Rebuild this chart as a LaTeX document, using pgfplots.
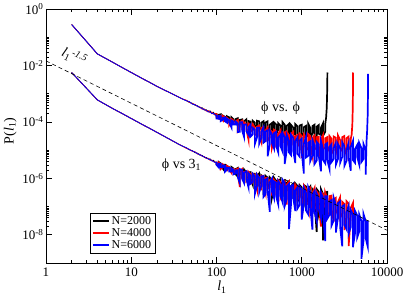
\documentclass[border=0pt]{standalone}
\usepackage{fontspec}
\setmainfont{Liberation Serif}
\usepackage{pgfplots}
\pgfplotsset{compat=1.18}
\usepackage{pgfplotstable}

% phi vs phi, N=2000 (log10 P)
\pgfplotstableread[row sep=\\]{
l lp\\
2 -0.55\\ 4 -1.59\\ 6 -1.88\\ 8 -2.09\\ 10 -2.25\\ 12 -2.38\\ 14 -2.49\\ 16 -2.58\\ 20 -2.74\\ 24 -2.86\\ 30 -3.00\\ 36 -3.12\\ 40 -3.19\\
44 -3.24\\ 48 -3.31\\ 52 -3.34\\ 56 -3.41\\ 60 -3.43\\ 64 -3.50\\ 68 -3.50\\ 72 -3.58\\ 76 -3.57\\ 80 -3.64\\ 84 -3.61\\ 88 -3.70\\ 92 -3.66\\ 96 -3.74\\
100 -3.70\\ 100 -3.79\\ 106 -3.84\\ 106 -3.75\\ 112 -3.73\\ 112 -3.82\\ 119 -3.90\\ 119 -3.78\\ 126 -3.82\\ 126 -3.89\\
133 -3.89\\ 133 -3.80\\ 141 -3.84\\ 141 -3.99\\ 150 -3.95\\ 150 -3.84\\ 158 -3.91\\ 158 -3.99\\ 168 -3.97\\ 168 -3.90\\
178 -3.87\\ 178 -4.11\\ 188 -4.09\\ 188 -3.93\\ 200 -3.91\\ 200 -4.07\\ 211 -4.27\\ 211 -3.98\\ 224 -3.91\\ 224 -4.08\\
237 -4.16\\ 237 -3.97\\ 251 -3.99\\ 251 -4.15\\ 266 -4.23\\ 266 -3.96\\ 282 -4.03\\ 282 -4.13\\ 299 -4.19\\ 299 -3.96\\
316 -3.98\\ 316 -4.28\\ 335 -4.20\\ 335 -4.03\\ 355 -3.98\\ 355 -4.54\\ 376 -4.26\\ 376 -4.02\\ 398 -3.98\\ 398 -4.20\\
422 -4.34\\ 422 -4.10\\ 447 -4.04\\ 447 -4.32\\ 473 -4.28\\ 473 -4.02\\ 501 -4.09\\ 501 -4.44\\ 531 -4.27\\ 531 -4.05\\
562 -4.13\\ 562 -4.37\\ 596 -4.42\\ 596 -4.01\\ 631 -4.10\\ 631 -4.33\\ 668 -4.62\\ 668 -4.14\\ 708 -4.07\\ 708 -4.39\\
750 -4.50\\ 750 -4.11\\ 794 -4.20\\ 794 -4.35\\ 841 -4.46\\ 841 -4.08\\ 891 -4.16\\ 891 -4.40\\ 944 -4.75\\ 944 -4.13\\
1000 -4.10\\ 1000 -4.48\\ 1059 -4.41\\ 1059 -4.19\\ 1122 -4.14\\ 1122 -4.54\\ 1189 -4.46\\ 1189 -4.06\\ 1259 -4.21\\ 1259 -4.61\\
1334 -4.39\\ 1334 -4.15\\ 1413 -4.10\\ 1413 -4.50\\ 1496 -4.76\\ 1496 -4.17\\ 1585 -4.11\\ 1585 -4.42\\ 1679 -4.46\\ 1679 -4.21\\
1778 -4.05\\ 1778 -4.49\\ 1884 -4.35\\ 1884 -4.08\\ 1930 -3.85\\ 1960 -3.55\\ 1980 -3.15\\ 1992 -2.70\\ 2000 -2.25\\
}\ubk

% phi vs phi, N=4000
\pgfplotstableread[row sep=\\]{
l lp\\
2 -0.55\\ 4 -1.59\\ 6 -1.88\\ 8 -2.09\\ 10 -2.25\\ 12 -2.38\\ 14 -2.49\\ 16 -2.58\\ 20 -2.74\\ 24 -2.86\\ 30 -3.00\\ 36 -3.12\\ 40 -3.19\\
44 -3.23\\ 48 -3.30\\ 52 -3.36\\ 56 -3.38\\ 60 -3.46\\ 64 -3.47\\ 68 -3.55\\ 72 -3.54\\ 76 -3.62\\ 80 -3.60\\ 84 -3.67\\ 88 -3.65\\ 92 -3.73\\ 96 -3.71\\
100 -3.70\\ 100 -3.83\\ 106 -3.88\\ 106 -3.78\\ 112 -3.78\\ 112 -3.86\\ 119 -3.95\\ 119 -3.79\\ 126 -3.85\\ 126 -3.95\\
133 -3.96\\ 133 -3.86\\ 141 -3.92\\ 141 -4.12\\ 150 -4.01\\ 150 -3.90\\ 158 -3.95\\ 158 -4.07\\ 168 -4.08\\ 168 -3.98\\
178 -3.93\\ 178 -4.30\\ 188 -4.16\\ 188 -4.02\\ 200 -3.96\\ 200 -4.26\\ 211 -4.32\\ 211 -4.02\\ 224 -4.09\\ 224 -4.26\\
237 -4.62\\ 237 -4.06\\ 251 -4.12\\ 251 -4.34\\ 266 -4.29\\ 266 -4.09\\ 282 -4.20\\ 282 -4.46\\ 299 -4.45\\ 299 -4.17\\
316 -4.13\\ 316 -4.47\\ 335 -4.71\\ 335 -4.21\\ 355 -4.19\\ 355 -4.46\\ 376 -4.59\\ 376 -4.30\\ 398 -4.19\\ 398 -4.66\\
422 -4.55\\ 422 -4.29\\ 447 -4.34\\ 447 -4.92\\ 473 -4.64\\ 473 -4.28\\ 501 -4.33\\ 501 -4.79\\ 531 -4.61\\ 531 -4.43\\
562 -4.30\\ 562 -4.78\\ 596 -4.72\\ 596 -4.41\\ 631 -4.37\\ 631 -5.20\\ 668 -4.79\\ 668 -4.36\\ 708 -4.46\\ 708 -4.72\\
750 -4.90\\ 750 -4.42\\ 794 -4.35\\ 794 -4.79\\ 841 -5.00\\ 841 -4.51\\ 891 -4.46\\ 891 -4.73\\ 944 -4.88\\ 944 -4.42\\
1000 -4.50\\ 1000 -5.28\\ 1059 -4.84\\ 1059 -4.45\\ 1122 -4.58\\ 1122 -4.91\\ 1189 -4.98\\ 1189 -4.43\\ 1259 -4.50\\ 1259 -4.84\\
1334 -5.21\\ 1334 -4.57\\ 1413 -4.48\\ 1413 -4.92\\ 1496 -4.98\\ 1496 -4.54\\ 1585 -4.52\\ 1585 -4.85\\ 1679 -5.48\\ 1679 -4.62\\
1778 -4.46\\ 1778 -4.97\\ 1884 -4.91\\ 1884 -4.58\\ 1995 -4.54\\ 1995 -5.06\\ 2113 -4.88\\ 2113 -4.50\\ 2239 -4.60\\ 2239 -5.12\\
2371 -5.00\\ 2371 -4.52\\ 2512 -4.56\\ 2512 -4.85\\ 2661 -5.30\\ 2661 -4.48\\ 2818 -4.64\\ 2818 -4.94\\ 2985 -5.03\\ 2985 -4.54\\
3162 -4.50\\ 3162 -4.91\\ 3350 -5.18\\ 3350 -4.58\\ 3548 -4.52\\ 3548 -4.97\\ 3758 -4.88\\ 3758 -4.60\\
3850 -4.45\\ 3920 -4.10\\ 3960 -3.60\\ 3985 -3.00\\ 4000 -2.25\\
}\urd

% phi vs phi, N=6000
\pgfplotstableread[row sep=\\]{
l lp\\
2 -0.55\\ 4 -1.59\\ 6 -1.88\\ 8 -2.09\\ 10 -2.25\\ 12 -2.38\\ 14 -2.49\\ 16 -2.58\\ 20 -2.74\\ 24 -2.86\\ 30 -3.00\\ 36 -3.12\\ 40 -3.19\\
44 -3.25\\ 48 -3.28\\ 52 -3.37\\ 56 -3.39\\ 60 -3.45\\ 64 -3.49\\ 68 -3.53\\ 72 -3.57\\ 76 -3.59\\ 80 -3.65\\ 84 -3.64\\ 88 -3.71\\ 92 -3.69\\ 96 -3.76\\
100 -3.76\\ 100 -3.88\\ 106 -3.89\\ 106 -3.79\\ 112 -3.80\\ 112 -3.97\\ 119 -3.92\\ 119 -3.86\\ 126 -3.84\\ 126 -3.98\\
133 -4.03\\ 133 -3.89\\ 141 -3.94\\ 141 -4.02\\ 150 -4.20\\ 150 -3.95\\ 158 -3.99\\ 158 -4.09\\ 168 -4.09\\ 168 -3.99\\
178 -4.06\\ 178 -4.36\\ 188 -4.35\\ 188 -4.01\\ 200 -4.01\\ 200 -4.31\\ 211 -4.54\\ 211 -4.10\\ 224 -4.09\\ 224 -4.33\\
237 -4.45\\ 237 -4.19\\ 251 -4.10\\ 251 -4.52\\ 266 -4.44\\ 266 -4.21\\ 282 -4.27\\ 282 -4.78\\ 299 -4.54\\ 299 -4.21\\
316 -4.21\\ 316 -4.78\\ 335 -4.57\\ 335 -4.35\\ 355 -4.20\\ 355 -4.74\\ 376 -4.68\\ 376 -4.34\\ 398 -4.30\\ 398 -5.22\\
422 -4.80\\ 422 -4.31\\ 447 -4.45\\ 447 -4.74\\ 473 -4.94\\ 473 -4.40\\ 501 -4.35\\ 501 -4.85\\ 531 -5.09\\ 531 -4.55\\
562 -4.46\\ 562 -4.85\\ 596 -5.05\\ 596 -4.40\\ 631 -4.54\\ 631 -5.49\\ 668 -4.99\\ 668 -4.47\\ 708 -4.67\\ 708 -5.08\\
750 -5.18\\ 750 -4.46\\ 794 -4.57\\ 794 -5.02\\ 841 -5.46\\ 841 -4.68\\ 891 -4.55\\ 891 -5.13\\ 944 -5.23\\ 944 -4.67\\
1000 -4.59\\ 1000 -5.08\\ 1059 -5.83\\ 1059 -4.78\\ 1122 -4.52\\ 1122 -5.26\\ 1189 -5.20\\ 1189 -4.74\\ 1259 -4.69\\ 1259 -5.39\\
1334 -5.20\\ 1334 -4.64\\ 1413 -4.83\\ 1413 -5.49\\ 1496 -5.37\\ 1496 -4.71\\ 1585 -4.80\\ 1585 -5.22\\ 1679 -5.75\\ 1679 -4.67\\
1778 -4.97\\ 1778 -5.35\\ 1884 -5.47\\ 1884 -4.80\\ 1995 -4.75\\ 1995 -5.35\\ 2113 -5.66\\ 2113 -4.89\\ 2239 -4.79\\ 2239 -5.42\\
2371 -5.31\\ 2371 -4.93\\ 2512 -4.75\\ 2512 -5.52\\ 2661 -5.31\\ 2661 -4.79\\ 2818 -4.93\\ 2818 -5.45\\ 2985 -5.24\\ 2985 -4.72\\
3162 -4.86\\ 3162 -5.56\\ 3350 -5.38\\ 3350 -5.00\\ 3548 -4.75\\ 3548 -5.28\\ 3758 -5.73\\ 3758 -4.89\\ 3981 -4.68\\ 3981 -5.35\\
4217 -5.45\\ 4217 -4.96\\ 4467 -4.82\\ 4467 -5.24\\ 4732 -5.52\\ 4732 -4.75\\ 5012 -4.93\\ 5012 -5.42\\ 5309 -5.31\\ 5309 -4.79\\
5623 -5.00\\ 5623 -5.87\\ 5750 -4.70\\ 5850 -4.30\\ 5930 -3.80\\ 5975 -3.10\\ 6000 -2.30\\
}\ubl

% phi vs 3_1, N=2000
\pgfplotstableread[row sep=\\]{
l lp\\
2 -2.25\\ 4 -3.22\\ 6 -3.52\\ 8 -3.72\\ 10 -3.88\\ 12 -4.01\\ 14 -4.12\\ 16 -4.21\\ 20 -4.37\\ 24 -4.50\\ 30 -4.66\\ 36 -4.79\\ 40 -4.86\\
44 -4.92\\ 48 -4.99\\ 52 -5.02\\ 56 -5.09\\ 60 -5.11\\ 64 -5.18\\ 68 -5.19\\ 72 -5.26\\ 76 -5.26\\ 80 -5.32\\ 84 -5.31\\ 88 -5.38\\ 92 -5.36\\ 96 -5.43\\
100 -5.43\\ 100 -5.50\\ 106 -5.55\\ 106 -5.42\\ 112 -5.47\\ 112 -5.55\\ 119 -5.66\\ 119 -5.52\\ 126 -5.52\\ 126 -5.62\\
133 -5.68\\ 133 -5.56\\ 141 -5.61\\ 141 -5.66\\ 150 -5.72\\ 150 -5.60\\ 158 -5.65\\ 158 -5.72\\ 168 -5.85\\ 168 -5.67\\
178 -5.63\\ 178 -5.87\\ 188 -5.85\\ 188 -5.71\\ 200 -5.70\\ 200 -5.96\\ 211 -5.93\\ 211 -5.69\\ 224 -5.79\\ 224 -6.06\\
237 -5.94\\ 237 -5.79\\ 251 -5.78\\ 251 -6.03\\ 266 -6.23\\ 266 -5.84\\ 282 -5.84\\ 282 -6.04\\ 299 -6.09\\ 299 -5.92\\
316 -5.83\\ 316 -6.22\\ 335 -6.13\\ 335 -5.89\\ 355 -5.96\\ 355 -6.43\\ 376 -6.23\\ 376 -5.91\\ 398 -5.98\\ 398 -6.30\\
422 -6.21\\ 422 -5.97\\ 447 -6.06\\ 447 -6.69\\ 473 -6.35\\ 473 -5.98\\ 501 -6.09\\ 501 -6.32\\ 531 -6.45\\ 531 -6.08\\
562 -6.03\\ 562 -6.38\\ 596 -6.63\\ 596 -6.15\\ 631 -6.10\\ 631 -6.54\\ 668 -6.42\\ 668 -6.15\\ 708 -6.10\\ 708 -6.86\\
750 -6.54\\ 750 -6.27\\ 794 -6.20\\ 794 -6.65\\ 841 -6.56\\ 841 -6.18\\ 891 -6.27\\ 891 -6.83\\ 944 -6.65\\ 944 -6.24\\
1000 -6.32\\ 1000 -6.63\\ 1059 -6.86\\ 1059 -6.24\\ 1122 -6.29\\ 1122 -6.68\\ 1189 -6.84\\ 1189 -6.39\\ 1259 -6.29\\ 1259 -6.65\\
1334 -6.99\\ 1334 -6.39\\ 1413 -6.50\\ 1413 -6.84\\ 1496 -7.90\\ 1496 -6.38\\ 1585 -6.48\\ 1585 -7.23\\ 1679 -6.87\\ 1679 -6.38\\
1778 -6.56\\ 1778 -8.20\\ 1884 -6.80\\ 1884 -6.50\\ 1995 -6.48\\ 1995 -7.10\\
}\lbk

% phi vs 3_1, N=4000
\pgfplotstableread[row sep=\\]{
l lp\\
2 -2.25\\ 4 -3.22\\ 6 -3.52\\ 8 -3.72\\ 10 -3.88\\ 12 -4.01\\ 14 -4.12\\ 16 -4.21\\ 20 -4.37\\ 24 -4.50\\ 30 -4.66\\ 36 -4.79\\ 40 -4.86\\
44 -4.93\\ 48 -4.97\\ 52 -5.04\\ 56 -5.06\\ 60 -5.14\\ 64 -5.15\\ 68 -5.22\\ 72 -5.23\\ 76 -5.30\\ 80 -5.29\\ 84 -5.36\\ 88 -5.35\\ 92 -5.41\\ 96 -5.42\\
100 -5.42\\ 100 -5.50\\ 106 -5.56\\ 106 -5.44\\ 112 -5.49\\ 112 -5.67\\ 119 -5.60\\ 119 -5.51\\ 126 -5.57\\ 126 -5.65\\
133 -5.70\\ 133 -5.56\\ 141 -5.61\\ 141 -5.69\\ 150 -5.81\\ 150 -5.66\\ 158 -5.66\\ 158 -5.77\\ 168 -5.80\\ 168 -5.70\\
178 -5.65\\ 178 -5.86\\ 188 -6.31\\ 188 -5.74\\ 200 -5.67\\ 200 -5.99\\ 211 -5.98\\ 211 -5.77\\ 224 -5.76\\ 224 -6.10\\
237 -6.01\\ 237 -5.77\\ 251 -5.85\\ 251 -6.19\\ 266 -6.14\\ 266 -5.83\\ 282 -5.88\\ 282 -6.06\\ 299 -6.39\\ 299 -5.86\\
316 -5.96\\ 316 -6.23\\ 335 -6.35\\ 335 -5.91\\ 355 -5.91\\ 355 -6.27\\ 376 -6.54\\ 376 -5.99\\ 398 -5.98\\ 398 -6.37\\
422 -6.31\\ 422 -6.06\\ 447 -6.01\\ 447 -6.51\\ 473 -6.36\\ 473 -6.05\\ 501 -6.14\\ 501 -6.50\\ 531 -6.35\\ 531 -6.06\\
562 -6.13\\ 562 -6.70\\ 596 -6.55\\ 596 -6.23\\ 631 -6.12\\ 631 -6.49\\ 668 -6.93\\ 668 -6.22\\ 708 -6.12\\ 708 -6.59\\
750 -6.71\\ 750 -6.30\\ 794 -6.25\\ 794 -6.54\\ 841 -6.83\\ 841 -6.23\\ 891 -6.35\\ 891 -6.75\\ 944 -6.68\\ 944 -6.30\\
1000 -6.43\\ 1000 -7.38\\ 1059 -6.72\\ 1059 -6.25\\ 1122 -6.37\\ 1122 -6.94\\ 1189 -6.89\\ 1189 -6.42\\ 1259 -6.34\\ 1259 -7.15\\
1334 -6.81\\ 1334 -6.51\\ 1413 -6.34\\ 1413 -7.00\\ 1496 -7.10\\ 1496 -6.46\\ 1585 -6.56\\ 1585 -6.92\\ 1679 -7.71\\ 1679 -6.49\\
1778 -6.56\\ 1778 -7.06\\ 1884 -6.93\\ 1884 -6.50\\ 1995 -6.73\\ 1995 -7.28\\ 2113 -7.23\\ 2113 -6.63\\ 2239 -6.61\\ 2239 -7.14\\
2371 -7.53\\ 2371 -6.74\\ 2512 -6.69\\ 2512 -7.11\\ 2661 -7.30\\ 2661 -6.84\\ 2818 -6.67\\ 2818 -7.41\\ 2985 -7.24\\ 2985 -6.83\\
3162 -6.91\\ 3162 -7.83\\ 3350 -7.38\\ 3350 -6.81\\ 3548 -6.89\\ 3548 -8.40\\ 3758 -7.32\\ 3758 -7.05\\ 3981 -6.88\\ 3981 -7.55\\
}\lrd

% phi vs 3_1, N=6000
\pgfplotstableread[row sep=\\]{
l lp\\
2 -2.25\\ 4 -3.22\\ 6 -3.52\\ 8 -3.72\\ 10 -3.88\\ 12 -4.01\\ 14 -4.12\\ 16 -4.21\\ 20 -4.37\\ 24 -4.50\\ 30 -4.66\\ 36 -4.79\\ 40 -4.86\\
44 -4.91\\ 48 -4.98\\ 52 -5.03\\ 56 -5.07\\ 60 -5.13\\ 64 -5.16\\ 68 -5.21\\ 72 -5.24\\ 76 -5.28\\ 80 -5.31\\ 84 -5.34\\ 88 -5.37\\ 92 -5.40\\ 96 -5.44\\
100 -5.42\\ 100 -5.52\\ 106 -5.61\\ 106 -5.48\\ 112 -5.49\\ 112 -5.61\\ 119 -5.61\\ 119 -5.54\\ 126 -5.55\\ 126 -5.76\\
133 -5.69\\ 133 -5.62\\ 141 -5.63\\ 141 -5.76\\ 150 -5.76\\ 150 -5.65\\ 158 -5.70\\ 158 -5.86\\ 168 -5.83\\ 168 -5.72\\
178 -5.71\\ 178 -5.96\\ 188 -6.17\\ 188 -5.67\\ 200 -5.71\\ 200 -6.02\\ 211 -6.17\\ 211 -5.80\\ 224 -5.75\\ 224 -6.02\\
237 -6.31\\ 237 -5.82\\ 251 -5.91\\ 251 -6.19\\ 266 -6.13\\ 266 -5.84\\ 282 -5.93\\ 282 -6.55\\ 299 -6.25\\ 299 -5.87\\
316 -5.98\\ 316 -6.51\\ 335 -6.27\\ 335 -5.93\\ 355 -5.92\\ 355 -6.66\\ 376 -6.56\\ 376 -6.05\\ 398 -6.00\\ 398 -6.45\\
422 -7.19\\ 422 -6.14\\ 447 -6.01\\ 447 -6.46\\ 473 -6.70\\ 473 -6.11\\ 501 -6.16\\ 501 -6.64\\ 531 -6.93\\ 531 -6.10\\
562 -6.23\\ 562 -6.61\\ 596 -6.85\\ 596 -6.05\\ 631 -6.17\\ 631 -6.98\\ 668 -6.73\\ 668 -6.28\\ 708 -6.20\\ 708 -7.80\\
750 -6.89\\ 750 -6.28\\ 794 -6.20\\ 794 -6.69\\ 841 -7.16\\ 841 -6.43\\ 891 -6.32\\ 891 -7.07\\ 944 -6.94\\ 944 -6.30\\
1000 -6.40\\ 1000 -7.46\\ 1059 -6.89\\ 1059 -6.34\\ 1122 -6.52\\ 1122 -7.14\\ 1189 -7.27\\ 1189 -6.30\\ 1259 -6.48\\ 1259 -7.02\\
1334 -7.82\\ 1334 -6.57\\ 1413 -6.45\\ 1413 -7.19\\ 1496 -7.50\\ 1496 -6.54\\ 1585 -6.72\\ 1585 -7.09\\ 1679 -7.39\\ 1679 -6.51\\
1778 -6.69\\ 1778 -7.26\\ 1884 -8.22\\ 1884 -6.63\\ 1995 -6.63\\ 1995 -7.43\\ 2113 -7.30\\ 2113 -6.82\\ 2239 -6.77\\ 2239 -7.67\\
2371 -7.49\\ 2371 -6.69\\ 2512 -6.95\\ 2512 -7.92\\ 2661 -7.40\\ 2661 -6.88\\ 2818 -6.81\\ 2818 -7.71\\ 2985 -8.41\\ 2985 -6.99\\
3162 -6.94\\ 3162 -7.64\\ 3350 -7.80\\ 3350 -7.20\\ 3548 -6.97\\ 3548 -7.96\\ 3758 -7.73\\ 3758 -7.12\\ 3981 -7.28\\ 3981 -8.44\\
4217 -7.94\\ 4217 -7.15\\ 4467 -7.31\\ 4467 -8.10\\ 4732 -7.88\\ 4732 -7.29\\ 5012 -7.51\\ 5012 -8.85\\ 5309 -8.19\\ 5309 -7.27\\
5623 -7.52\\ 5623 -8.12\\ 5957 -8.43\\ 5957 -7.49\\
}\lbl

\begin{document}
\begin{tikzpicture}
\begin{axis}[
  name=ax,
  scale only axis, width=341pt, height=254pt,
  xmode=log, ymode=log,
  xmin=1, xmax=10000, ymin=1e-9, ymax=1,
  xtick={1,10,100,1000,10000},
  xticklabels={1,10,100,1000,10000},
  ytick={1e-8,1e-6,1e-4,1e-2,1},
  yticklabels={10\textsuperscript{-8},10\textsuperscript{-6},10\textsuperscript{-4},10\textsuperscript{-2},10\textsuperscript{0}},
  minor ytick={2e-8,3e-8,4e-8,5e-8,6e-8,7e-8,8e-8,9e-8,1e-7,
               2e-6,3e-6,4e-6,5e-6,6e-6,7e-6,8e-6,9e-6,1e-5,
               2e-4,3e-4,4e-4,5e-4,6e-4,7e-4,8e-4,9e-4,1e-3,
               2e-2,3e-2,4e-2,5e-2,6e-2,7e-2,8e-2,9e-2,1e-1},
  tick align=inside,
  major tick length=6pt, minor tick length=3pt,
  every tick/.style={black, line width=0.6pt},
  axis line style={line width=0.9pt},
  ticklabel style={font=\fontsize{13}{13}\selectfont},
  xticklabel style={yshift=-1pt},
  yticklabel style={xshift=1pt},
  xlabel={\textit{l}\textsubscript{1}},
  ylabel={P(\textit{l}\textsubscript{1})},
  label style={font=\fontsize{14}{14}\selectfont},
  xlabel style={at={(axis description cs:0.516,-0.095)}, anchor=center},
  ylabel style={at={(axis description cs:-0.105,0.52)}, anchor=center},
  legend style={at={(rel axis cs:0.129,0.039)}, anchor=south west,
                font=\fontsize{12}{13}\selectfont, inner xsep=2pt, inner ysep=1pt, row sep=-1.5pt,
                cells={anchor=west}},
  legend image code/.code={\draw[#1, line width=1.5pt] (0pt,0pt) -- (16pt,0pt);},
]
\addlegendimage{color=black}
\addlegendentry{N=2000}
\addlegendimage{color=red}
\addlegendentry{N=4000}
\addlegendimage{color=blue}
\addlegendentry{N=6000}
% smooth parts (rows 0..27) thin; noisy parts (rows 27..end) drawn thicker
\addplot[draw=black, line width=0.8pt, forget plot, skip coords between index={28}{10000}] table[x=l, y expr={10^(\thisrow{lp})}] {\ubk};
\addplot[draw=black, line width=1.7pt, forget plot, skip coords between index={0}{27}] table[x=l, y expr={10^(\thisrow{lp})}] {\ubk};
\addplot[draw=black, line width=0.8pt, forget plot, skip coords between index={28}{10000}] table[x=l, y expr={10^(\thisrow{lp})}] {\lbk};
\addplot[draw=black, line width=1.7pt, forget plot, skip coords between index={0}{27}] table[x=l, y expr={10^(\thisrow{lp})}] {\lbk};
\addplot[draw=red, line width=0.8pt, forget plot, skip coords between index={28}{10000}] table[x=l, y expr={10^(\thisrow{lp})}] {\urd};
\addplot[draw=red, line width=1.7pt, forget plot, skip coords between index={0}{27}] table[x=l, y expr={10^(\thisrow{lp})}] {\urd};
\addplot[draw=red, line width=0.8pt, forget plot, skip coords between index={28}{10000}] table[x=l, y expr={10^(\thisrow{lp})}] {\lrd};
\addplot[draw=red, line width=1.7pt, forget plot, skip coords between index={0}{27}] table[x=l, y expr={10^(\thisrow{lp})}] {\lrd};
\addplot[draw=blue, line width=0.8pt, forget plot, skip coords between index={28}{10000}] table[x=l, y expr={10^(\thisrow{lp})}] {\ubl};
\addplot[draw=blue, line width=1.7pt, forget plot, skip coords between index={0}{27}] table[x=l, y expr={10^(\thisrow{lp})}] {\ubl};
\addplot[draw=blue, line width=0.8pt, forget plot, skip coords between index={28}{10000}] table[x=l, y expr={10^(\thisrow{lp})}] {\lbl};
\addplot[draw=blue, line width=1.7pt, forget plot, skip coords between index={0}{27}] table[x=l, y expr={10^(\thisrow{lp})}] {\lbl};
\addplot[draw=black, line width=0.6pt, dash pattern=on 4pt off 3pt, forget plot] coordinates {(1,0.0145) (10000,1.45e-8)};
\node[anchor=west, font=\fontsize{14}{14}\selectfont] at (axis cs:304,3.1e-4) {ϕ vs. ϕ};
\node[anchor=west, font=\fontsize{14}{14}\selectfont] at (axis cs:20.8,3e-6) {ϕ vs 3\textsubscript{1}};
\node[rotate=-25, font=\fontsize{14}{14}\selectfont] at (axis cs:2.15,0.02) {\textit{l}\textsubscript{1}\textsuperscript{\textit{-1.5}}};
\end{axis}
\pgfresetboundingbox
\path ([xshift=-46pt,yshift=-34pt]ax.south west) rectangle ([xshift=20pt,yshift=9pt]ax.north east);
\end{tikzpicture}
\end{document}
